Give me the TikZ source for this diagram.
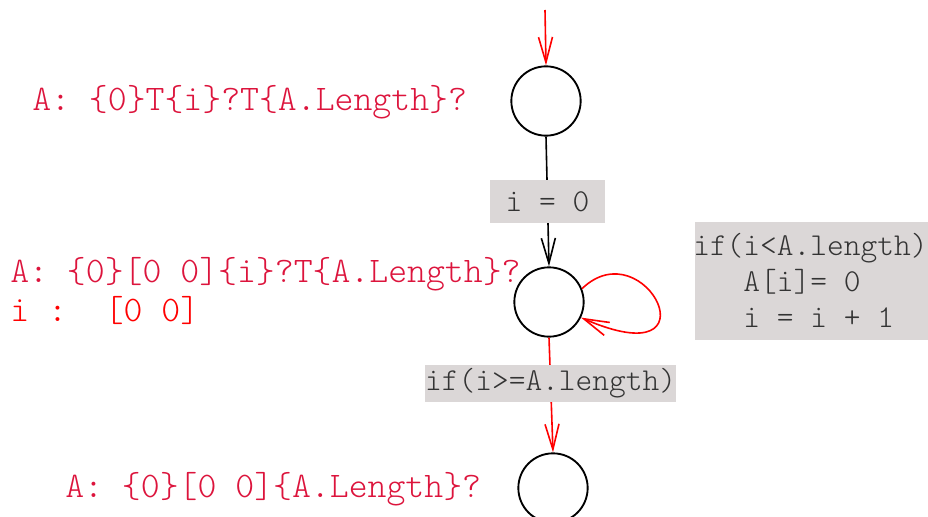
\documentclass[tikz,border=0pt]{standalone}
\usepackage{fontspec}
\setmonofont{Latin Modern Mono Light}
\usepackage{tikz}
\usetikzlibrary{arrows.meta, positioning}
\definecolor{statered}{HTML}{DC143C}
\definecolor{pathred}{HTML}{FF0000}
\definecolor{guardgray}{HTML}{DBD7D7}
\newcommand{\monospaces}{\frenchspacing\spaceskip=\fontcharwd\font`0\relax\xspaceskip=\spaceskip}

\begin{document}
\begin{tikzpicture}[x=0.75pt, y=-0.75pt,
    state/.style={circle, draw=black, line width=1.4pt, minimum size=52pt, inner sep=0pt},
    annot/.style={font=\ttfamily\fontsize{27}{28.5}\selectfont, color=statered,
      inner sep=0pt, align=left, execute at begin node=\monospaces},
    guard/.style={font=\ttfamily\fontsize{23.9}{27}\selectfont, color=black!80,
      fill=guardgray, inner sep=0pt, align=left, execute at begin node=\monospaces},
    arrow/.style={-{Straight Barb[length=19pt, width=10.5pt]}, line width=1.2pt, color=black},
    redarrow/.style={-{Straight Barb[length=19pt, width=10.5pt]}, line width=1.2pt, color=pathred},
]
\useasboundingbox (0,0) rectangle (928,517);
% states
\node[state] (s0) at (546,101) {};
\node[state] (s1) at (549,302) {};
\node[state] (s2) at (553,488) {};
\coordinate (start) at (545,10);
% annotations
\node[annot, anchor=west] (a0) at (32,102) {A: \{0\}T\{i\}?T\{A.Length\}?};
\node[annot, anchor=west] (a1) at (10,291)
    {A: \{0\}[0 0]\{i\}?T\{A.Length\}?\\\textcolor{pathred}{i :\phantom{00}[0 0]}};
\node[annot, anchor=west] (a2) at (65,489) {A: \{0\}[0 0]\{A.Length\}?};
% loop guard
\node[guard, minimum width=175pt, anchor=north west,
      minimum height=88pt, text width=174pt] (g1) at (695,222)
    {\hspace*{-2pt}if(i<A.length)\\\hspace*{-2pt}\phantom{000}A[i]= 0\\\hspace*{-2pt}\phantom{000}i = i + 1};
% transitions
\draw[redarrow] (start) -- (s0.north);
\draw[arrow] (s0.south)
    -- node[guard, minimum width=86pt, minimum height=32pt, align=center] {i = 0} (s1.north);
\draw[redarrow] (s1.south)
    -- node[guard, pos=0.4, minimum width=186pt, minimum height=28pt, align=center] {if(i>=A.length)} (s2.north);
\draw[redarrow] (s1.22) .. controls (645,228) and (720,378) .. (s1.-26);
\end{tikzpicture}
\end{document}
